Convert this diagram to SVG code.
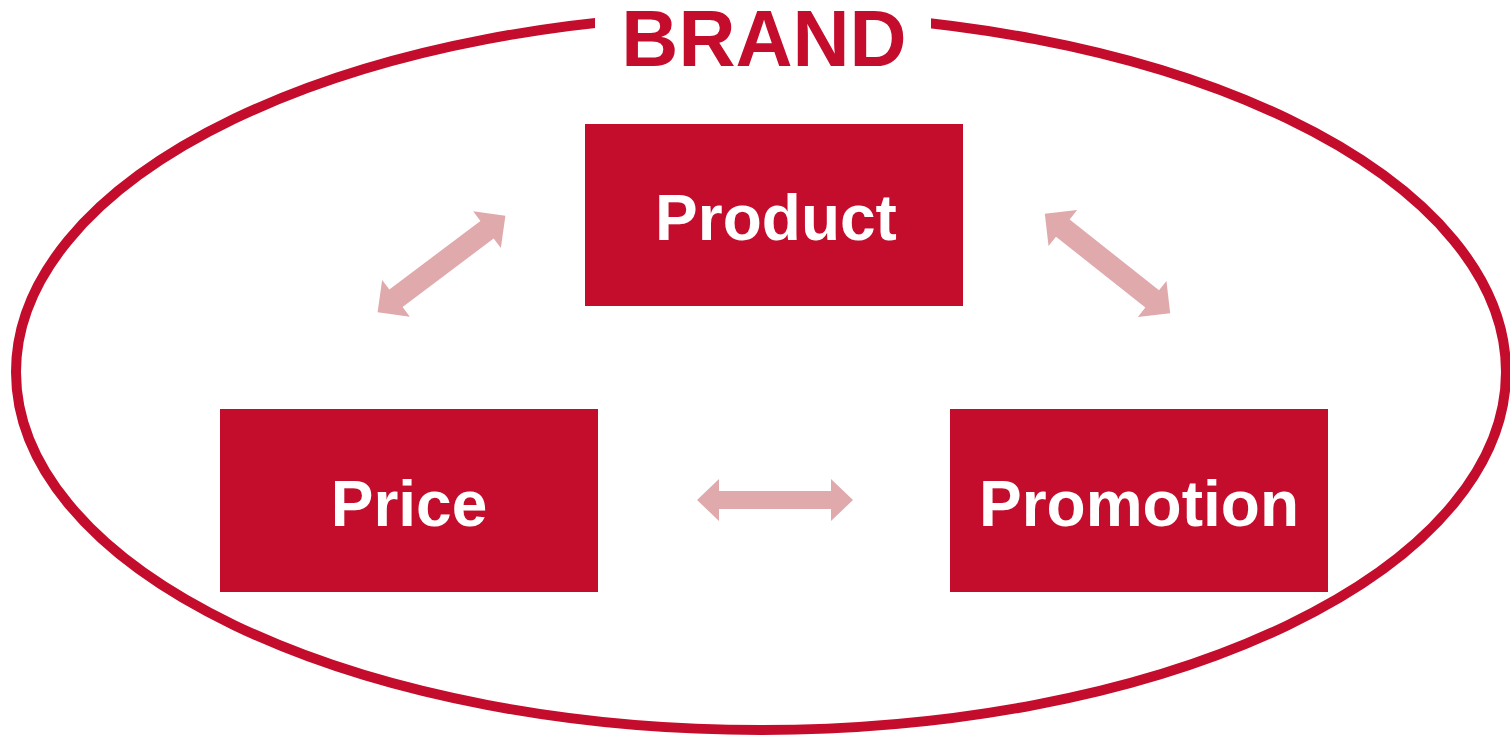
<svg xmlns="http://www.w3.org/2000/svg" width="1510" height="739" viewBox="0 0 1510 739">
<defs>
<style>
.box{fill:#C40C2C}
.lbl{font-family:"Liberation Sans",Arial,sans-serif;font-weight:bold;fill:#FFFFFF;text-anchor:middle}
.arr{fill:#E0AAAD}
</style>
<path id="dbl" d="M-78,0 L-56,-21 L-56,-9 L56,-9 L56,-21 L78,0 L56,21 L56,9 L-56,9 L-56,21 Z"/>
<path id="dbl2" d="M-80,0 L-57,-23 L-57,-11 L57,-11 L57,-23 L80,0 L57,23 L57,11 L-57,11 L-57,23 Z"/>
</defs>
<rect width="1510" height="739" fill="#FFFFFF"/>
<g id="brand">
<ellipse cx="761" cy="372" rx="745" ry="358" fill="none" stroke="#C40C2C" stroke-width="10"/>
<rect x="595" y="0" width="336" height="75" fill="#FFFFFF"/>
<text x="764" y="66" font-family="Liberation Sans, Arial, sans-serif" font-weight="bold" font-size="79" fill="#C40C2C" text-anchor="middle">BRAND</text>
</g>
<g id="connectors" class="arr">
<use href="#dbl2" transform="translate(441.5,264) rotate(-37)"/>
<use href="#dbl2" transform="translate(1107.5,263.5) rotate(38.4)"/>
<use href="#dbl" transform="translate(775,500)"/>
</g>
<g id="product">
<rect class="box" x="585" y="124" width="378" height="182"/>
<text class="lbl" x="776" y="240" font-size="64">Product</text>
</g>
<g id="price">
<rect class="box" x="220" y="409" width="378" height="183"/>
<text class="lbl" x="409" y="526" font-size="64">Price</text>
</g>
<g id="promotion">
<rect class="box" x="950" y="409" width="378" height="183"/>
<text class="lbl" x="1139" y="526" font-size="64">Promotion</text>
</g>
</svg>
